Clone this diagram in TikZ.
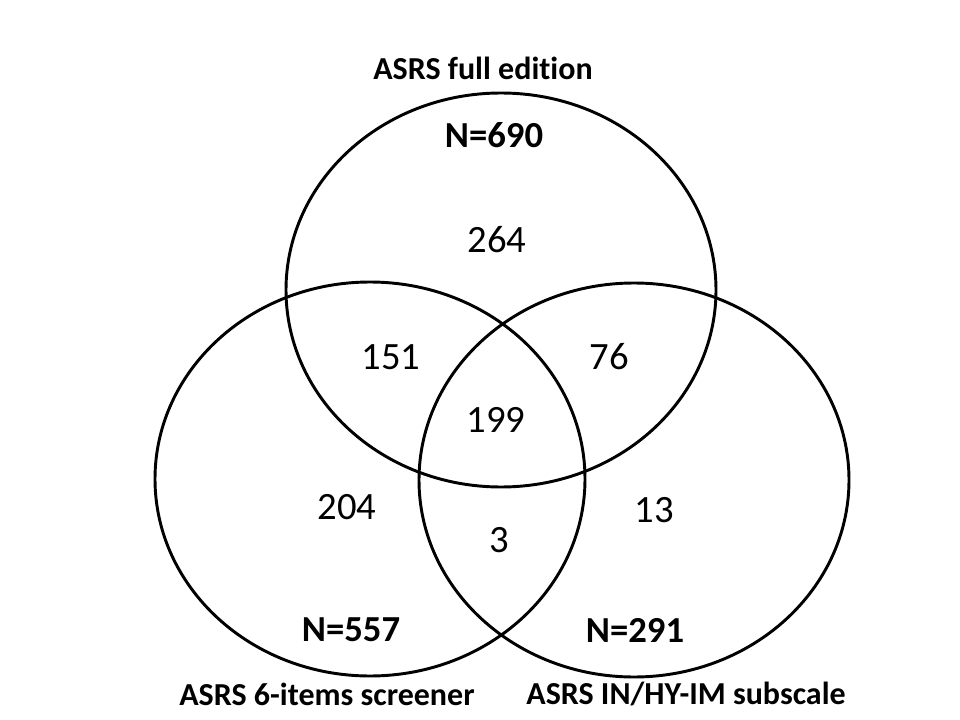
\documentclass[tikz,border=0pt]{standalone}
\usepackage{fontspec}
\setmainfont{Carlito}[Ligatures=NoCommon]
\usepackage{tikz}

\begin{document}
\begin{tikzpicture}[x=0.75pt,y=-0.75pt,line width=2.2pt]
\useasboundingbox (0,0) rectangle (960,720);
\tikzset{setname/.style={font=\bfseries\fontsize{24}{28}\selectfont},
  total/.style={font=\bfseries\fontsize{27.5}{32}\selectfont},
  count/.style={font=\fontsize{29}{34}\selectfont}}
\draw (501,290) ellipse (215 and 197);\draw (370,479) ellipse (215 and 197);\draw (634,480) ellipse (215 and 197);
\node[setname] (full) at (483,68) {ASRS full edition};
\node[setname] (screen) at (327,694) {ASRS 6-items screener};
\node[setname] (sub) at (686,694) {ASRS IN/HY-IM subscale};
\foreach \n/\x/\y/\lab in {nfull/494/135/690,nscreen/351/630/557,nsub/635/630/291} {\node[total] (\n) at (\x,\y) {N=\lab};}
\foreach \n/\x/\y/\lab in {onlyfull/497/240/264,fs/391/357/151,fi/609/357/76,all/496/420/199,onlys/347/507/204,si/499/540/3,onlyi/654/510/13} {\node[count] (\n) at (\x,\y) {\lab};}
\end{tikzpicture}
\end{document}
